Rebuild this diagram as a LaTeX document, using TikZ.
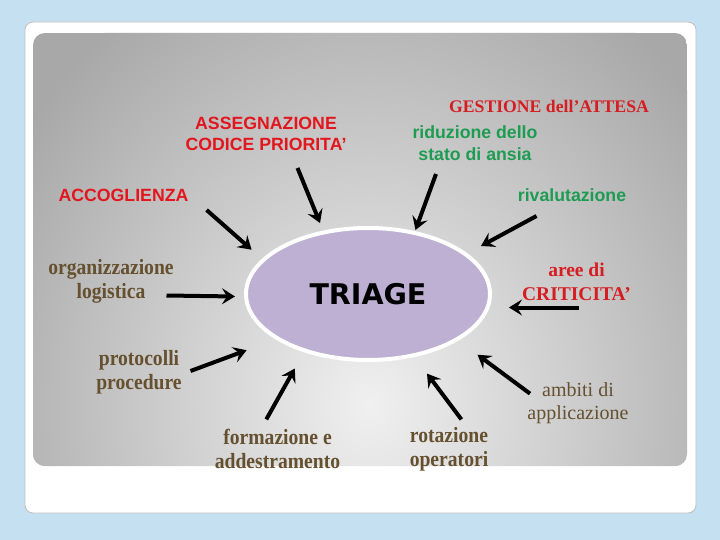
\documentclass[tikz,border=0pt]{standalone}
\usepackage{fontspec}
\setmainfont{Liberation Serif}
\newfontfamily\arialf{Liberation Sans}
\newfontfamily\condserif[FakeStretch=0.9]{Liberation Serif}
\newfontfamily\triagef{DejaVu Sans}
\usetikzlibrary{arrows.meta,shapes.geometric}
\definecolor{bgblue}{HTML}{C5E1F1}
\definecolor{tred}{HTML}{E3161E}
\definecolor{sred}{HTML}{D61E22}
\definecolor{tgreen}{HTML}{1E9C52}
\definecolor{tbrown}{HTML}{65502F}
\definecolor{lav}{HTML}{BDB0D3}
\definecolor{gdark}{HTML}{A8A8A8}
\definecolor{glight}{HTML}{F0F0F0}
\begin{document}
\begin{tikzpicture}[x=1pt,y=-1pt,
  redsans/.style={font=\arialf\bfseries\fontsize{17.7}{20.5}\selectfont, text=tred, align=center, inner sep=0pt},
  greensans/.style={font=\arialf\bfseries\fontsize{17.7}{22}\selectfont, text=tgreen, align=center, inner sep=0pt},
  redserif/.style={font=\bfseries\fontsize{19.5}{24}\selectfont, text=sred, align=center, inner sep=0pt},
  brownbold/.style={font=\condserif\bfseries\fontsize{21.8}{24}\selectfont, text=tbrown, align=center, inner sep=0pt},
  brownreg/.style={font=\fontsize{20}{23.5}\selectfont, text=tbrown, align=center, inner sep=0pt},
  arr/.style={line width=4pt, -{Stealth[length=13pt,width=16pt,inset=5pt]}}
]
\useasboundingbox (0,0) rectangle (720,540);
\fill[bgblue] (0,0) rectangle (720,540);
% white frame
\fill[white, draw=black!25, line width=0.8pt, rounded corners=8pt] (25,22) rectangle (696,513);
% gray panel
\begin{scope}
  \clip[rounded corners=12pt] (33,33) rectangle (687,466);
  \fill[gdark] (33,33) rectangle (687,466);
  \shade[inner color=glight, outer color=gdark] (370,405) ellipse [x radius=420, y radius=480];
\end{scope}
% central ellipse
\node[ellipse, minimum width=244pt, minimum height=132pt, fill=lav, draw=white, line width=4pt, inner sep=0pt,
  font=\triagef\bfseries\fontsize{28.5}{34}\selectfont] (triage) at (368,294) {TRIAGE};
% labels
\node[redsans] (assegn) at (266,134) {ASSEGNAZIONE\\CODICE PRIORITA’};
\node[redserif, font=\bfseries\fontsize{17.7}{21}\selectfont] (gest) at (549,106) {GESTIONE dell’ATTESA};
\node[greensans] (ridu) at (475,143) {riduzione dello\\stato di ansia};
\node[redsans] (accog) at (123.5,195) {ACCOGLIENZA};
\node[greensans] (rival) at (572,195) {rivalutazione};
\node[brownbold] (organ) at (111,281.5) {organizzazione\\logistica};
\node[redserif] (aree) at (576.5,281.7) {aree di\\CRITICITA’};
\node[brownbold] (proto) at (139,372) {protocolli\\procedure};
\node[brownbold] (forma) at (277.5,449) {formazione e\\addestramento};
\node[brownbold] (rota) at (449,449) {rotazione\\operatori};
\node[brownreg] (ambiti) at (578,403) {ambiti di\\applicazione};
% arrow endpoints
\coordinate (a1s) at (206.6,210);   \coordinate (a1e) at (251.6,249.7);
\coordinate (a2s) at (297.5,168);   \coordinate (a2e) at (320,223);
\coordinate (a3s) at (436,174);     \coordinate (a3e) at (415.5,230);
\coordinate (a4s) at (536.5,216);   \coordinate (a4e) at (481,246);
\coordinate (a5s) at (166.5,295.5); \coordinate (a5e) at (235,296.5);
\coordinate (a6s) at (579,307.5);   \coordinate (a6e) at (509,307.5);
\coordinate (a7s) at (190.5,371);   \coordinate (a7e) at (246.6,350.2);
\coordinate (a8s) at (266.3,419.4); \coordinate (a8e) at (294.8,368.5);
\coordinate (a9s) at (461.4,419.4); \coordinate (a9e) at (427,373.6);
\coordinate (a10s) at (530,393.6);  \coordinate (a10e) at (477.5,354.7);
\foreach \i in {1,...,10}{\draw[arr] (a\i s) -- (a\i e);}
\end{tikzpicture}
\end{document}
